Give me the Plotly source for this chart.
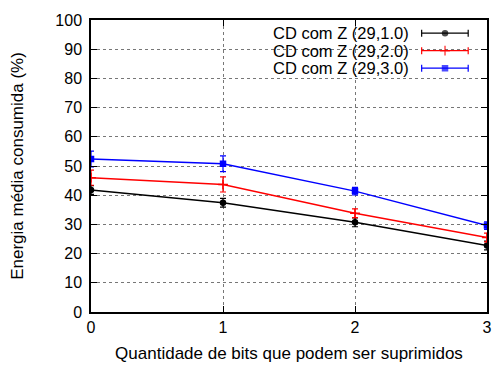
import plotly.graph_objects as go

bits = [0, 1, 2, 3]
names = ["CD com Z (29,1.0)", "CD com Z (29,2.0)", "CD com Z (29,3.0)"]
energia_1 = [41.8, 37.4, 30.7, 22.8]
erro_1 = [1.5, 1.5, 1.5, 1.5]
energia_2 = [46.0, 43.7, 33.8, 25.5]
erro_2 = [2.6, 2.6, 1.5, 1.5]
energia_3 = [52.4, 50.8, 41.4, 29.6]
erro_3 = [2.7, 2.7, 1.3, 1.3]
y_ticks = [0, 10, 20, 30, 40, 50, 60, 70, 80, 90, 100]
x_ticks = [0, 1, 2, 3]

colors = ["black", "red", "blue"]
symbols = ["circle", "cross-thin", "square"]
sizes = [5, 7, 5]
series = [(energia_1, erro_1), (energia_2, erro_2), (energia_3, erro_3)]

fig = go.Figure()
for (vals, errs), name, c, s, sz in zip(series, names, colors, symbols, sizes):
    fig.add_trace(go.Scatter(
        x=bits, y=vals, name=name, mode="lines+markers",
        line=dict(color=c, width=1.5),
        marker=dict(color=c, symbol=s, size=sz, line=dict(color=c, width=1.5)),
        error_y=dict(type="data", array=errs, visible=True, color=c, thickness=1.2, width=3),
        showlegend=False,
    ))

font = "Liberation Sans, Arial, sans-serif"

# legend background (white, hides grid)
fig.add_shape(type="rect", xref="paper", yref="paper", x0=0.37, x1=0.995, y0=0.8, y1=0.995,
              fillcolor="white", line=dict(width=0), layer="between")

# custom legend: text on the left, sample line on the right
leg_y = [0.955, 0.895, 0.835]
for name, c, s, sz, ly in zip(names, colors, symbols, sizes, leg_y):
    fig.add_annotation(xref="paper", yref="paper", x=0.8075, y=ly, text=name,
                       showarrow=False, xanchor="right", yanchor="middle",
                       font=dict(family=font, size=16.5, color="black"))
    fig.add_shape(type="line", xref="paper", yref="paper", x0=0.835, x1=0.9525, y0=ly, y1=ly,
                  line=dict(color=c, width=1.2))
    for xe in (0.835, 0.9525):
        fig.add_shape(type="line", xref="paper", yref="paper", x0=xe, x1=xe, y0=ly - 0.012, y1=ly + 0.012,
                      line=dict(color=c, width=1.2))

fig.add_trace(go.Scatter(
    x=[0.894] * 3, y=leg_y, xaxis="x2", yaxis="y2", mode="markers",
    marker=dict(color=colors, symbol=symbols, size=sizes, line=dict(color=colors, width=1.5)),
    showlegend=False, hoverinfo="skip",
))

fig.update_layout(
    width=497, height=365,
    margin=dict(l=91, r=5, t=20, b=53),
    plot_bgcolor="white", paper_bgcolor="white",
    font=dict(family=font, size=16, color="black"),
    xaxis=dict(
        range=[0, 3], tickvals=x_ticks, ticks="inside", ticklen=6, tickcolor="black",
        mirror="ticks", showline=True, linecolor="black", linewidth=1.5,
        showgrid=True, gridcolor="#777", griddash="dot", gridwidth=1,
        zeroline=False, tickfont=dict(size=16),
        title=dict(text="Quantidade de bits que podem ser suprimidos", font=dict(size=17), standoff=12),
    ),
    yaxis=dict(
        range=[0, 100], tickvals=y_ticks, ticks="inside", ticklen=6, tickcolor="black",
        mirror="ticks", showline=True, linecolor="black", linewidth=1.5,
        showgrid=True, gridcolor="#777", griddash="dot", gridwidth=1,
        zeroline=False, tickfont=dict(size=16), ticklabelstandoff=4,
        title=dict(text="Energia média consumida (%)", font=dict(size=17), standoff=27),
    ),
    xaxis2=dict(range=[0, 1], overlaying="x", visible=False, domain=[0, 1]),
    yaxis2=dict(range=[0, 1], overlaying="y", visible=False),
)

fig.write_html("out.html")
